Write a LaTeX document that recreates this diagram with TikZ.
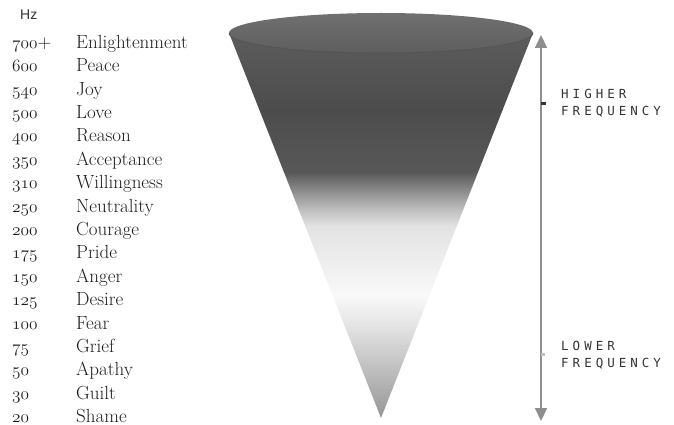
\documentclass[tikz,border=0pt]{standalone}
\usepackage{fontspec}
\newfontfamily\unitfont{Liberation Sans}
\newfontfamily\freqfont[LetterSpace=32]{DejaVu Sans Mono}
\usetikzlibrary{arrows.meta}

\definecolor{textgray}{HTML}{1E1E1E}
\definecolor{labelgray}{HTML}{333333}
\definecolor{axisgray}{HTML}{8E8E8E}
\definecolor{rimtop}{HTML}{707070}
\definecolor{rimbottom}{HTML}{5E5E5E}
\definecolor{rimedge}{HTML}{555555}
\definecolor{coneA}{HTML}{5C5C5C}
\definecolor{coneB}{HTML}{4C4C4C}
\definecolor{coneC}{HTML}{585858}
\definecolor{coneD}{HTML}{BBBBBB}
\definecolor{coneE}{HTML}{E2E2E2}
\definecolor{coneF}{HTML}{F9F9F9}
\definecolor{coneG}{HTML}{E4E4E4}
\definecolor{coneH}{HTML}{959595}

% old style figures for the Hz column
\newcommand{\osnum}[1]{{\usefont{OML}{lmm}{m}{it}#1}}

\tikzset{
  hzval/.style={anchor=base west, inner sep=0pt, text=textgray,
    font=\fontsize{19}{21}\selectfont},
  state/.style={anchor=base west, inner sep=0pt, text=textgray,
    font=\fontsize{19}{21}\selectfont},
  freqlabel/.style={anchor=west, align=left, inner sep=0pt, text=labelgray,
    font=\freqfont\fontsize{12.5}{17}\selectfont},
  freqaxis/.style={{Triangle[width=12pt,length=13pt]}-{Triangle[width=12pt,length=13pt]},
    line width=2pt, draw=axisgray}
}

\begin{document}
\begin{tikzpicture}[x=1pt, y=-1pt]
\useasboundingbox (0,0) rectangle (674,425);

% scale of frequencies
\node[anchor=base west, inner sep=0pt, text=labelgray,
  font=\unitfont\fontsize{14}{16}\selectfont] (hz) at (20,19.5) {Hz};
\node[hzval] (hz700) at (12,48.5) {\osnum{700}+}; \node[state] (enlightenment) at (76,48.5) {Enlightenment};
\node[hzval] (hz600) at (12,71.9) {\osnum{600}};  \node[state] (peace) at (76,71.9) {Peace};
\node[hzval] (hz540) at (12,95.3) {\osnum{540}};  \node[state] (joy) at (76,95.3) {Joy};
\node[hzval] (hz500) at (12,118.6) {\osnum{500}}; \node[state] (love) at (76,118.6) {Love};
\node[hzval] (hz400) at (12,142) {\osnum{400}};   \node[state] (reason) at (76,142) {Reason};
\node[hzval] (hz350) at (12,165.4) {\osnum{350}}; \node[state] (acceptance) at (76,165.4) {Acceptance};
\node[hzval] (hz310) at (12,188.8) {\osnum{310}}; \node[state] (willingness) at (76,188.8) {Willingness};
\node[hzval] (hz250) at (12,212.1) {\osnum{250}}; \node[state] (neutrality) at (76,212.1) {Neutrality};
\node[hzval] (hz200) at (12,235.5) {\osnum{200}}; \node[state] (courage) at (76,235.5) {Courage};
\node[hzval] (hz175) at (12,258.9) {\osnum{175}}; \node[state] (pride) at (76,258.9) {Pride};
\node[hzval] (hz150) at (12,282.3) {\osnum{150}}; \node[state] (anger) at (76,282.3) {Anger};
\node[hzval] (hz125) at (12,305.6) {\osnum{125}}; \node[state] (desire) at (76,305.6) {Desire};
\node[hzval] (hz100) at (12,329) {\osnum{100}};   \node[state] (fear) at (76,329) {Fear};
\node[hzval] (hz75) at (12,352.4) {\osnum{75}};   \node[state] (grief) at (76,352.4) {Grief};
\node[hzval] (hz50) at (12,375.8) {\osnum{50}};   \node[state] (apathy) at (76,375.8) {Apathy};
\node[hzval] (hz30) at (12,399.1) {\osnum{30}};   \node[state] (guilt) at (76,399.1) {Guilt};
\node[hzval] (hz20) at (12,422.5) {\osnum{20}};   \node[state] (shame) at (76,422.5) {Shame};

% cone
\coordinate (apex) at (381,418);
\coordinate (rimleft) at (229,33);
\coordinate (rimright) at (533,33);
\begin{scope}
\clip (rimleft) -- (apex) -- (rimright) -- cycle;
\shade[top color=coneA, bottom color=coneB] (229,33) rectangle (533,110);
\shade[top color=coneB, bottom color=coneC] (229,110) rectangle (533,172);
\shade[top color=coneC, bottom color=coneD] (229,172) rectangle (533,208);
\shade[top color=coneD, bottom color=coneE] (229,208) rectangle (533,226);
\shade[top color=coneE, bottom color=coneF] (229,226) rectangle (533,295);
\shade[top color=coneF, bottom color=coneG] (229,295) rectangle (533,325);
\shade[top color=coneG, bottom color=coneH] (229,325) rectangle (533,419);
\end{scope}
\shade[top color=rimtop, bottom color=rimbottom] (381,33) ellipse (152 and 20);
\draw[rimedge, line width=0.8pt] (rimleft) arc (180:0:152 and 20);

% frequency axis
\coordinate (hightip) at (541,35);
\coordinate (lowtip) at (541,421);
\draw[freqaxis] (lowtip) -- (hightip);
\draw[line width=2.5pt, black!80] (541,103.5) -- (546,103.5);
\draw[line width=2.5pt, black!25] (541,354.5) -- (545,354.5);
\node[freqlabel] (higher) at (561,103.5) {HIGHER\\FREQUENCY};
\node[freqlabel] (lower) at (561,355) {LOWER\\FREQUENCY};
\end{tikzpicture}
\end{document}
